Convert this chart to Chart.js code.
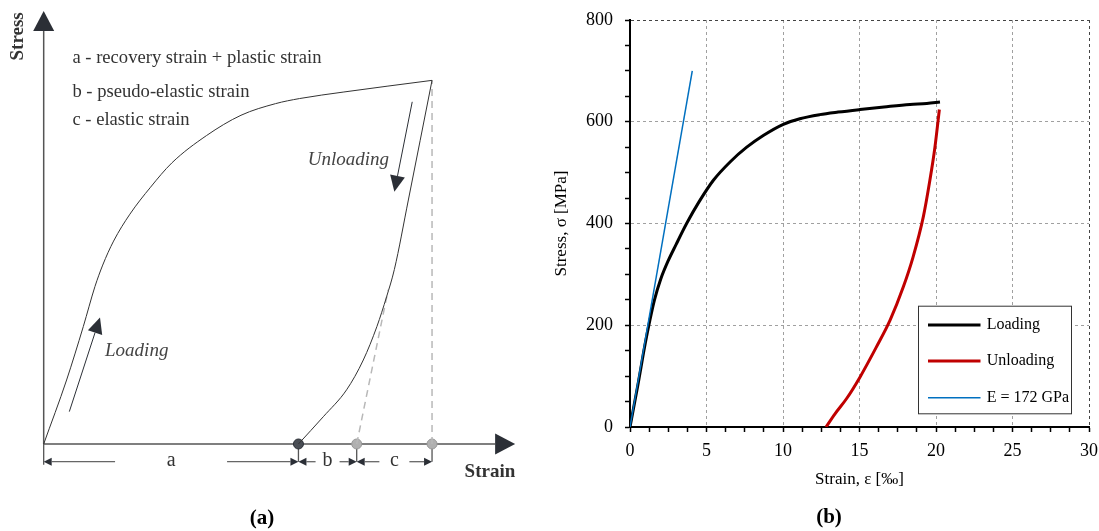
<!DOCTYPE html>
<html>
<head>
<meta charset="utf-8">
<script src="https://cdn.jsdelivr.net/npm/chart.js@4.4.1/dist/chart.umd.min.js"></script>
<style>
  html, body { margin: 0; padding: 0; background: #fff; }
  #panelA { position: absolute; left: 0; top: 0; }
  #panelB { position: absolute; left: 540px; top: 0; }
</style>
</head>
<body>
<canvas id="panelA" width="540" height="531"></canvas>
<canvas id="panelB" width="559" height="531"></canvas>
<script>
/* ==========================================
   Data
========================================== */

// (a) schematic, strain / stress in relative units (peak = 100)
const aLoadStrain   = [0, 5.9, 10.2, 13.2, 15.2, 18.0, 22.2, 27.5, 33.0, 41.9, 50.8, 59.7, 65.9, 77.3, 100];
const aLoadStress   = [0, 17.6, 32.3, 43.3, 49.2, 55.8, 63.2, 70.6, 77.3, 84.8, 90.4, 93.6, 95.0, 96.8, 100];
const aUnloadStrain = [65.6, 72.0, 78.0, 82.3, 85.8, 88.3, 90.3, 93.9, 100];
const aUnloadStress = [0, 7.5, 14.9, 23.1, 32.3, 40.5, 48.0, 67.1, 100];
const aElasticStrain = [80.6, 88.7];
const aElasticStress = [0, 42.4];
const aPeakStrain = [100, 100];
const aPeakStress = [0, 100];
const aMarkStrain = [65.6, 80.6, 100];
const aDimLabels = ["a", "b", "c"];
const aNotes = ["a - recovery strain + plastic strain", "b - pseudo-elastic strain", "c - elastic strain"];

// (b) test results
const loadStrain = [0, 0.5, 1.0, 1.3, 1.6, 2.0, 2.5, 3.0, 3.7, 4.5, 5.45, 6.54, 7.63, 8.71, 10.02, 11.1, 12.4, 13.6, 15.03, 16.6, 18.3, 19.4, 20.26];
const loadStress = [0, 80, 165, 210, 250, 290, 327, 358, 400, 442, 485, 521, 550, 573, 595, 606, 614, 619, 624, 629, 634, 636, 639];
const unloadStrain = [12.81, 13.4, 14.16, 15.03, 16.1, 17.0, 17.86, 18.5, 19.17, 19.6, 19.93, 20.22];
const unloadStress = [0, 26, 56, 98, 157, 210, 275, 334, 413, 485, 550, 624];
const modulusStrain = [0, 4.07];
const modulusStress = [0, 700];
const seriesLabels = ["Loading", "Unloading", "E = 172 GPa"];
const xTickStep = 1.25, xMajor = 5;
const yTickStep = 50, yMajor = 200;

const toXY = (xs, ys) => xs.map((v, i) => ({ x: v, y: ys[i] }));

Chart.defaults.font.family = "'Liberation Serif', 'Times New Roman', serif";
Chart.defaults.color = "#000";
Chart.defaults.animation = false;

function arrow(ctx, x1, y1, x2, y2, len, half) {
  const a = Math.atan2(y2 - y1, x2 - x1);
  const bx = x2 - len * Math.cos(a), by = y2 - len * Math.sin(a);
  ctx.beginPath();
  ctx.moveTo(x1, y1);
  ctx.lineTo(bx, by);
  ctx.stroke();
  ctx.beginPath();
  ctx.moveTo(x2, y2);
  ctx.lineTo(bx + half * Math.sin(a), by - half * Math.cos(a));
  ctx.lineTo(bx - half * Math.sin(a), by + half * Math.cos(a));
  ctx.closePath();
  ctx.fill();
}

/* ==========================================
   (a) schematic
========================================== */
const schematicPlugin = {
  id: "schematic",
  beforeDatasetsDraw(chart) {
    const { ctx, scales: { x, y } } = chart;
    const px = v => x.getPixelForValue(v), py = v => y.getPixelForValue(v);
    const dimY = py(-4.87);
    ctx.save();
    ctx.fillStyle = "#2b2f36";

    // axes with arrow heads
    ctx.strokeStyle = "#555";
    ctx.lineWidth = 1.5;
    arrow(ctx, px(0), py(0), px(0), py(119.1), 20, 10.5);
    arrow(ctx, px(0), py(0), px(121.4), py(0), 20, 10.5);

    // extension lines
    ctx.lineWidth = 1.3;
    ctx.beginPath();
    ctx.moveTo(px(0), py(0)); ctx.lineTo(px(0), dimY + 3);
    aMarkStrain.forEach(s => { ctx.moveTo(px(s), py(0)); ctx.lineTo(px(s), dimY); });
    ctx.stroke();

    // dimension arrows
    const gaps = [56, 12, 15];
    const ends = [0].concat(aMarkStrain);
    ctx.strokeStyle = "#666";
    ctx.font = "20px 'Liberation Serif'";
    ctx.textAlign = "center";
    ctx.textBaseline = "middle";
    aDimLabels.forEach((lab, i) => {
      const l = px(ends[i]), r = px(ends[i + 1]), m = (l + r) / 2;
      arrow(ctx, m - gaps[i], dimY, l, dimY, 8, 4);
      arrow(ctx, m + gaps[i], dimY, r, dimY, 8, 4);
      ctx.fillStyle = "#333";
      ctx.fillText(lab, m, dimY - 1);
      ctx.fillStyle = "#2b2f36";
    });
    ctx.restore();
  },
  afterDatasetsDraw(chart) {
    const { ctx, scales: { x, y } } = chart;
    const px = v => x.getPixelForValue(v), py = v => y.getPixelForValue(v);
    ctx.save();

    // direction arrows
    ctx.strokeStyle = "#2b2f36";
    ctx.fillStyle = "#2b2f36";
    ctx.lineWidth = 1;
    arrow(ctx, px(6.6), py(8.9), px(14.5), py(34.8), 16, 7.5);
    arrow(ctx, px(94.9), py(94.1), px(90.3), py(69.4), 16, 7.5);

    // notes
    ctx.fillStyle = "#333";
    ctx.textBaseline = "middle";
    ctx.textAlign = "left";
    ctx.font = "18.6px 'Liberation Serif'";
    const noteY = [106.1, 96.9, 89.1];
    aNotes.forEach((t, i) => ctx.fillText(t, px(7.4), py(noteY[i])));

    ctx.fillStyle = "#444";
    ctx.font = "italic 19px 'Liberation Serif'";
    ctx.fillText("Loading", px(15.8), py(25.7));
    ctx.fillText("Unloading", px(68.0), py(78.1));

    // axis names
    ctx.fillStyle = "#333";
    ctx.font = "bold 19px 'Liberation Serif'";
    ctx.textAlign = "center";
    ctx.fillText("Strain", px(114.9), py(-7.65));
    ctx.save();
    ctx.translate(px(-6.6), py(112.1));
    ctx.rotate(-Math.PI / 2);
    ctx.fillText("Stress", 0, 0);
    ctx.restore();

    ctx.fillStyle = "#000";
    ctx.font = "bold 21px 'Liberation Serif'";
    ctx.fillText("(a)", px(56.2), py(-20.6));
    ctx.restore();
  }
};

new Chart(document.getElementById("panelA"), {
  type: "scatter",
  data: {
    datasets: [
      {
        data: toXY(aLoadStrain, aLoadStress),
        showLine: true, borderColor: "#333", borderWidth: 1,
        pointRadius: 0, cubicInterpolationMode: "monotone"
      },
      {
        data: toXY(aUnloadStrain, aUnloadStress),
        showLine: true, borderColor: "#333", borderWidth: 1,
        pointRadius: 0, cubicInterpolationMode: "monotone"
      },
      {
        data: toXY(aElasticStrain, aElasticStress),
        showLine: true, borderColor: "#b8b8b8", borderWidth: 1.5,
        borderDash: [7, 5], pointRadius: 0
      },
      {
        data: toXY(aPeakStrain, aPeakStress),
        showLine: true, borderColor: "#b8b8b8", borderWidth: 1.5,
        borderDash: [7, 5], pointRadius: 0
      },
      {
        data: aMarkStrain.map(s => ({ x: s, y: 0 })),
        showLine: false,
        pointRadius: 5,
        pointBackgroundColor: ["#4a4e55", "#b0b0b0", "#b0b0b0"],
        pointBorderColor: ["#2b2f36", "#999", "#999"],
        pointBorderWidth: 1
      }
    ]
  },
  options: {
    responsive: false,
    devicePixelRatio: 1,
    layout: { padding: 0, autoPadding: false },
    plugins: { legend: { display: false }, tooltip: { enabled: false } },
    scales: {
      x: { type: "linear", display: false, min: -11.25, max: 127.8 },
      y: { type: "linear", display: false, min: -23.93, max: 122.1 }
    }
  },
  plugins: [schematicPlugin]
});

/* ==========================================
   (b) stress-strain results
========================================== */
const boxLegendPlugin = {
  id: "boxLegend",
  afterDraw(chart) {
    const { ctx, chartArea } = chart;
    const left = chartArea.right - 171, top = chartArea.top + 285.7;
    const w = 153, h = 107.6, rows = [19.3, 55.3, 92];
    ctx.save();
    ctx.fillStyle = "#fff";
    ctx.fillRect(left, top, w, h);
    ctx.strokeStyle = "#333";
    ctx.lineWidth = 1;
    ctx.strokeRect(left + 0.5, top + 0.5, w, h);
    ctx.font = "16px 'Liberation Serif'";
    ctx.textBaseline = "middle";
    ctx.textAlign = "left";
    chart.data.datasets.forEach((ds, i) => {
      const yy = top + rows[i];
      ctx.strokeStyle = ds.borderColor;
      ctx.lineWidth = ds.borderWidth;
      ctx.beginPath();
      ctx.moveTo(left + 10, yy);
      ctx.lineTo(left + 62.5, yy);
      ctx.stroke();
      ctx.fillStyle = "#000";
      ctx.fillText(ds.label, left + 68.7, yy);
    });
    ctx.font = "bold 21px 'Liberation Serif'";
    ctx.textAlign = "center";
    ctx.fillText("(b)", 289, 518);
    ctx.restore();
  }
};

function gridColor(ctx, major, max) {
  const v = ctx.tick ? ctx.tick.value : null;
  if (v === null || v === 0 || v % major !== 0) return "rgba(0,0,0,0)";
  return v === max ? "#444" : "#a0a0a0";
}

new Chart(document.getElementById("panelB"), {
  type: "scatter",
  data: {
    datasets: [
      {
        label: seriesLabels[0],
        data: toXY(loadStrain, loadStress),
        showLine: true, borderColor: "#000", borderWidth: 3,
        pointRadius: 0, cubicInterpolationMode: "monotone", order: 1
      },
      {
        label: seriesLabels[1],
        data: toXY(unloadStrain, unloadStress),
        showLine: true, borderColor: "#c00000", borderWidth: 3,
        pointRadius: 0, cubicInterpolationMode: "monotone", order: 2
      },
      {
        label: seriesLabels[2],
        data: toXY(modulusStrain, modulusStress),
        showLine: true, borderColor: "#0070c0", borderWidth: 1.5,
        pointRadius: 0, order: 0
      }
    ]
  },
  options: {
    responsive: false,
    devicePixelRatio: 1,
    layout: { padding: { top: 20, right: 10, bottom: 0, left: 0 }, autoPadding: false },
    plugins: { legend: { display: false }, tooltip: { enabled: false } },
    scales: {
      x: {
        type: "linear", min: 0, max: 30,
        ticks: {
          stepSize: xTickStep, maxTicksLimit: 100, autoSkip: false, maxRotation: 0,
          padding: 8, font: { size: 18 },
          callback: v => (v % xMajor === 0 ? v : "")
        },
        grid: {
          color: c => gridColor(c, xMajor, 30),
          tickColor: "#000", tickLength: 5, tickWidth: 1.5, lineWidth: 1
        },
        border: { color: "#000", width: 2, dash: [3, 3] },
        title: {
          display: true, text: "Strain, ε [‰]", font: { size: 17 },
          padding: { top: 0, bottom: 41 }
        },
        afterFit: s => { s.height = 104; s.paddingLeft = 0; s.paddingRight = 0; }
      },
      y: {
        type: "linear", min: 0, max: 800,
        ticks: {
          stepSize: yTickStep, maxTicksLimit: 100, autoSkip: false,
          padding: 12, font: { size: 18 },
          callback: v => (v % yMajor === 0 ? v : "")
        },
        grid: {
          color: c => gridColor(c, yMajor, 800),
          tickColor: "#000", tickLength: 5, tickWidth: 1.5, lineWidth: 1
        },
        border: { color: "#000", width: 2, dash: [3, 3] },
        title: {
          display: true, text: "Stress, σ [MPa]", font: { size: 17 },
          padding: { top: 11, bottom: 0 }
        },
        afterFit: s => { s.width = 90; s.paddingTop = 0; s.paddingBottom = 0; }
      }
    }
  },
  plugins: [boxLegendPlugin]
});
</script>
</body>
</html>
